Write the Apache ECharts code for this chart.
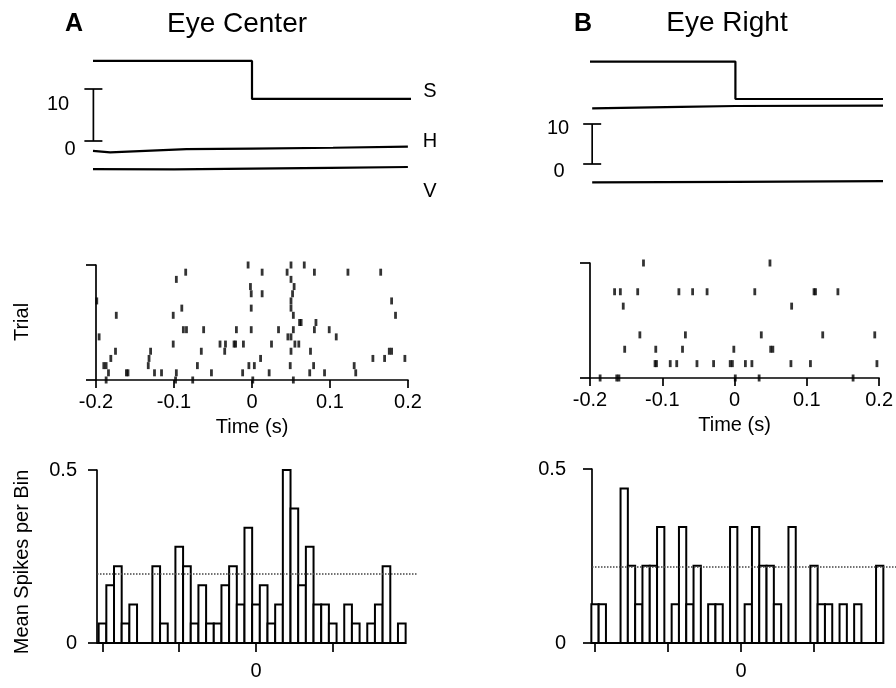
<!DOCTYPE html>
<html>
<head>
<meta charset="utf-8">
<script src="https://cdn.jsdelivr.net/npm/echarts@6/dist/echarts.min.js"></script>
<style>
html, body { margin: 0; padding: 0; background: #fff; }
#main { width: 896px; height: 688px; }
</style>
</head>
<body>
<div id="main"></div>
<script>
// 数据 ------------------------------------------------------------
// eye / stimulus traces (time s, arbitrary deg)
var traceA_S = [[-0.204, 15.4], [0, 15.4], [0, 8.1], [0.204, 8.1]];
var traceA_H = [[-0.204, -1.9], [-0.182, -2.2], [-0.084, -1.55], [0, -1.45], [0.104, -1.3], [0.2, -1.1]];
var traceA_V = [[-0.204, -5.4], [-0.1, -5.45], [0, -5.3], [0.1, -5.15], [0.2, -5.0]];
var traceB_S = [[-0.2, 25.6], [0, 25.6], [0, 16.25], [0.203, 16.25]];
var traceB_H = [[-0.197, 13.9], [-0.075, 14.3], [0, 14.5], [0.203, 14.6]];
var traceB_V = [[-0.197, -4.6], [0, -4.45], [0.203, -4.3]];
// scale bars [time, low, high]
var scaleA = [[-0.2035, 0, 10]];
var scaleB = [[-0.197, 0, 10]];

// raster: [trial, spike times]
var rasterA = [
    [0, [-0.187, -0.098, -0.076, 0.001, 0.053]],
    [1, [-0.184, -0.161, -0.159, -0.125, -0.116, -0.097, -0.052, -0.012, 0.022, 0.074, 0.093, 0.133]],
    [2, [-0.190, -0.187, -0.133, -0.070, -0.004, 0.003, 0.049, 0.079, 0.131]],
    [3, [-0.181, -0.132, 0.011, 0.155, 0.170, 0.196]],
    [4, [-0.175, -0.130, -0.065, -0.035, 0.050, 0.075, 0.176, 0.179]],
    [5, [-0.101, -0.041, -0.034, -0.023, -0.021, -0.011, 0.025, 0.055, 0.060]],
    [6, [-0.196, 0.046, 0.050, 0.108]],
    [7, [-0.088, -0.084, -0.062, -0.020, -0.001, 0.034, 0.053, 0.080, 0.099]],
    [8, [0.061, 0.063, 0.082]],
    [9, [-0.174, -0.101, 0.053, 0.184]],
    [10, [-0.090, -0.001, 0.050]],
    [11, [-0.199, 0.050, 0.179]],
    [12, [-0.001, 0.013, 0.052]],
    [13, [-0.002, 0.054]],
    [14, [-0.097, 0.050]],
    [15, [-0.085, 0.013, 0.045, 0.080, 0.123, 0.165]],
    [16, [-0.005, 0.050, 0.067]]
];
var rasterB = [
    [0, [-0.186, -0.163, -0.160, 0.001, 0.034, 0.164]],
    [2, [-0.110, -0.108, -0.089, -0.080, -0.052, -0.029, -0.006, -0.003, 0.015, 0.024, 0.078, 0.105, 0.197]],
    [4, [-0.152, -0.109, -0.072, -0.001, 0.050, 0.053]],
    [6, [-0.131, -0.068, 0.037, 0.122, 0.194]],
    [10, [-0.154, 0.079]],
    [12, [-0.166, -0.158, -0.134, -0.077, -0.058, -0.038, 0.028, 0.110, 0.112, 0.143]],
    [16, [-0.126, 0.049]]
];

// histograms (10 ms bins)
var binTimes = [-0.20, -0.19, -0.18, -0.17, -0.16, -0.15, -0.14, -0.13, -0.12, -0.11,
                -0.10, -0.09, -0.08, -0.07, -0.06, -0.05, -0.04, -0.03, -0.02, -0.01,
                 0.00,  0.01,  0.02,  0.03,  0.04,  0.05,  0.06,  0.07,  0.08,  0.09,
                 0.10,  0.11,  0.12,  0.13,  0.14,  0.15,  0.16,  0.17,  0.18,  0.19];
var histA = [0.056, 0.167, 0.222, 0.056, 0.111, 0, 0, 0.222, 0.056, 0,
             0.278, 0.222, 0.056, 0.167, 0.056, 0.056, 0.167, 0.222, 0.111, 0.333,
             0.111, 0.167, 0.056, 0.111, 0.5, 0.389, 0.167, 0.278, 0.111, 0.111,
             0.056, 0, 0.111, 0.056, 0, 0.056, 0.111, 0.222, 0, 0.056];
var histB = [0.111, 0.111, 0, 0, 0.444, 0.222, 0.111, 0.222, 0.222, 0.333,
             0, 0.111, 0.333, 0.111, 0.222, 0, 0.111, 0.111, 0, 0.333,
             0, 0.111, 0.333, 0.222, 0.222, 0.111, 0, 0.333, 0, 0,
             0.222, 0.111, 0.111, 0, 0.111, 0, 0.111, 0, 0, 0.222];
var meanA = 0.2;
var meanB = 0.222;
var timeTicks = [-0.2, -0.1, 0, 0.1];
var histLabelTicks = [0];

// -----------------------------------------------------------------
var FONT = "'Liberation Sans', Arial, Helvetica, sans-serif";
var chart = echarts.init(document.getElementById('main'));

function rasterPoints(rows) {
    var out = [];
    rows.forEach(function (r) {
        r[1].forEach(function (t) { out.push([t, r[0]]); });
    });
    return out;
}
function histPoints(vals) {
    return binTimes.map(function (t, i) { return [t, vals[i]]; });
}

function renderBar(params, api) {
    var t = api.value(0), v = api.value(1);
    var p0 = api.coord([t - 0.005, v]);
    var p1 = api.coord([t + 0.005, 0]);
    return {
        type: 'rect',
        shape: { x: p0[0], y: p0[1], width: p1[0] - p0[0], height: p1[1] - p0[1] },
        style: { fill: '#fff', stroke: '#000', lineWidth: 2 }
    };
}
function renderScale(params, api) {
    var t = api.value(0);
    var lo = api.coord([t, api.value(1)]);
    var hi = api.coord([t, api.value(2)]);
    var st = { stroke: '#000', lineWidth: 1.7 };
    return {
        type: 'group',
        children: [
            { type: 'line', shape: { x1: lo[0], y1: lo[1], x2: hi[0], y2: hi[1] }, style: st },
            { type: 'line', shape: { x1: hi[0] - 9, y1: hi[1], x2: hi[0] + 9, y2: hi[1] }, style: st },
            { type: 'line', shape: { x1: lo[0] - 9, y1: lo[1], x2: lo[0] + 9, y2: lo[1] }, style: st }
        ]
    };
}

function traceLine(data, xi) {
    return {
        type: 'line', xAxisIndex: xi, yAxisIndex: xi, data: data,
        showSymbol: false, silent: true,
        lineStyle: { color: '#000', width: 2.2 }
    };
}

var axisBlack = { color: '#000', width: 1.7 };
var labelStyle = { color: '#000', fontSize: 20, fontFamily: FONT };

function rasterX(grid) {
    return {
        type: 'value', gridIndex: grid, min: -0.2, max: 0.2, interval: 0.1,
        axisLine: { show: true, onZero: false, lineStyle: axisBlack },
        axisTick: { show: true, length: 8, lineStyle: axisBlack },
        axisLabel: Object.assign({ margin: 12 }, labelStyle),
        splitLine: { show: false },
        name: 'Time (s)', nameLocation: 'middle', nameGap: 37,
        nameTextStyle: labelStyle
    };
}
function rasterY(grid) {
    return {
        type: 'value', gridIndex: grid, min: 0, max: 16, interval: 16,
        axisLine: { show: true, onZero: false, lineStyle: axisBlack },
        axisTick: { show: true, length: 10, lineStyle: axisBlack },
        axisLabel: { show: false },
        splitLine: { show: false }
    };
}
function histX(grid, mn, mx) {
    return {
        type: 'value', gridIndex: grid, min: mn, max: mx,
        axisLine: { show: false, onZero: false },
        axisTick: { show: true, length: 9, lineStyle: axisBlack, customValues: timeTicks },
        axisLabel: Object.assign({ margin: 18, customValues: histLabelTicks }, labelStyle),
        splitLine: { show: false }
    };
}
function histY(grid, margin) {
    return {
        type: 'value', gridIndex: grid, min: 0, max: 0.5, interval: 0.5,
        axisLine: { show: true, onZero: false, lineStyle: axisBlack },
        axisTick: { show: true, length: 9, lineStyle: axisBlack },
        axisLabel: Object.assign({ margin: margin }, labelStyle),
        splitLine: { show: false }
    };
}
function histSeries(xi, vals, mean) {
    return [{
        type: 'custom', xAxisIndex: xi, yAxisIndex: xi,
        data: histPoints(vals), renderItem: renderBar, silent: true,
        markLine: {
            silent: true, symbol: 'none', label: { show: false },
            lineStyle: { color: '#444', type: 'dotted', width: 1.5 },
            data: [{ yAxis: mean }]
        }
    }, {
        type: 'line', xAxisIndex: xi, yAxisIndex: xi, showSymbol: false, silent: true,
        data: [[xi === 4 ? -0.20717 : -0.20411, 0], [binTimes[binTimes.length - 1] + 0.005, 0]],
        lineStyle: { color: '#000', width: 2 }
    }];
}

function txt(text, x, y, size, opts) {
    return Object.assign({
        type: 'text', x: x, y: y, silent: true,
        style: {
            text: text, fill: '#000', font: (opts && opts.bold ? 'bold ' : '') + size + 'px ' + FONT,
            align: 'center', verticalAlign: 'middle'
        }
    }, opts && opts.rotation ? { rotation: opts.rotation } : {});
}

chart.setOption({
    animation: false,
    backgroundColor: '#fff',
    grid: [
        { left: 93, top: 50, width: 318, height: 143 },
        { left: 590, top: 52, width: 293, height: 152 },
        { left: 96, top: 265, width: 312, height: 115 },
        { left: 590, top: 263, width: 291, height: 115 },
        { left: 97, top: 470, width: 320, height: 173 },
        { left: 592, top: 469, width: 304, height: 174 }
    ],
    xAxis: [
        { type: 'value', gridIndex: 0, min: -0.204, max: 0.204, show: false },
        { type: 'value', gridIndex: 1, min: -0.2, max: 0.203, show: false },
        rasterX(2),
        rasterX(3),
        histX(4, -0.20717, 0.2098),
        histX(5, -0.20411, 0.21233)
    ],
    yAxis: [
        { type: 'value', gridIndex: 0, min: -10, max: 17.5, show: false },
        { type: 'value', gridIndex: 1, min: -10, max: 28, show: false },
        rasterY(2),
        rasterY(3),
        histY(4, 20),
        histY(5, 26)
    ],
    graphic: [
        txt('A', 74, 24, 25, { bold: true }),
        txt('Eye Center', 237, 24, 28),
        txt('B', 583, 24, 25, { bold: true }),
        txt('Eye Right', 727, 23, 28),
        txt('10', 58, 104, 20),
        txt('0', 70, 149, 20),
        txt('10', 558, 128, 20),
        txt('0', 559, 171, 20),
        txt('S', 430, 91, 20),
        txt('H', 430, 141, 20),
        txt('V', 430, 191, 20),
        txt('Trial', 22, 322, 20, { rotation: Math.PI / 2 }),
        txt('Mean Spikes per Bin', 22, 562, 20, { rotation: Math.PI / 2 })
    ],
    series: [
        traceLine(traceA_S, 0),
        traceLine(traceA_H, 0),
        traceLine(traceA_V, 0),
        { type: 'custom', xAxisIndex: 0, yAxisIndex: 0, data: scaleA, renderItem: renderScale, silent: true },
        traceLine(traceB_S, 1),
        traceLine(traceB_H, 1),
        traceLine(traceB_V, 1),
        { type: 'custom', xAxisIndex: 1, yAxisIndex: 1, data: scaleB, renderItem: renderScale, silent: true },
        {
            type: 'scatter', xAxisIndex: 2, yAxisIndex: 2, data: rasterPoints(rasterA),
            symbol: 'rect', symbolSize: [2.8, 7], itemStyle: { color: '#000' }, silent: true
        },
        {
            type: 'scatter', xAxisIndex: 3, yAxisIndex: 3, data: rasterPoints(rasterB),
            symbol: 'rect', symbolSize: [2.8, 7], itemStyle: { color: '#000' }, silent: true
        }
    ].concat(histSeries(4, histA, meanA), histSeries(5, histB, meanB))
});
</script>
</body>
</html>
